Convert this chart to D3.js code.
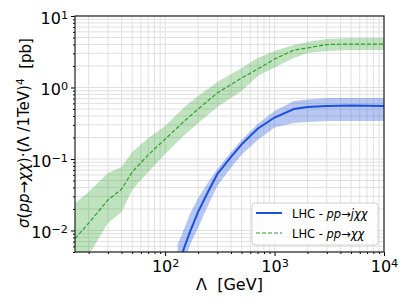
<!DOCTYPE html>
<html>
<head>
<meta charset="utf-8">
<script src="https://cdnjs.cloudflare.com/ajax/libs/d3/7.8.5/d3.min.js"></script>
<style>
    body { margin: 0; background: #fff; }
    svg { display: block; font-family: "DejaVu Sans", sans-serif; }
</style>
</head>
<body>
<div id="chart"></div>
<script>
// Lambda (GeV) and sigma * (Lambda/1TeV)^4 (pb), central value and band edges
var lamChiChi = [15, 20, 30, 40, 50, 70, 100, 150, 200, 300, 500, 700, 1000, 1500, 2000, 3000, 5000, 10000];
var chiChiMid = [0.0077, 0.0127, 0.0267, 0.038, 0.0658, 0.114, 0.19, 0.34, 0.50, 0.84, 1.36, 1.81, 2.50, 3.34, 3.57, 3.99, 4.05, 4.05];
var chiChiHi  = [0.0243, 0.0345, 0.0637, 0.0773, 0.125, 0.197, 0.290, 0.533, 0.76, 1.19, 1.87, 2.59, 3.24, 3.93, 4.33, 4.77, 4.92, 4.92];
var chiChiLo  = [0.0023, 0.0045, 0.0127, 0.0182, 0.0368, 0.0658, 0.117, 0.217, 0.318, 0.533, 0.893, 1.45, 1.90, 2.59, 3.04, 3.24, 3.34, 3.34];

var lamJChiChi = [130, 150, 170, 200, 250, 300, 400, 500, 700, 1000, 1500, 2000, 3000, 5000, 10000];
var jChiChiMid = [0.00299, 0.00588, 0.00984, 0.0182, 0.0363, 0.0617, 0.107, 0.160, 0.265, 0.380, 0.50, 0.533, 0.551, 0.56, 0.551];
var jChiChiHi  = [0.00627, 0.0108, 0.0176, 0.0285, 0.0484, 0.0725, 0.125, 0.184, 0.309, 0.469, 0.647, 0.679, 0.713, 0.713, 0.713];
var jChiChiLo  = [0.00147, 0.00362, 0.00647, 0.0108, 0.0235, 0.0419, 0.076, 0.115, 0.184, 0.276, 0.318, 0.329, 0.340, 0.340, 0.340];

var xMajor = [100, 1000, 10000];
var yMajor = [0.01, 0.1, 1, 10];

var blue = "#1c50dc", green = "#2ca02c";

var width = 408, height = 306,
    margin = {top: 16, right: 24, bottom: 54, left: 75},
    innerW = width - margin.left - margin.right,
    innerH = height - margin.top - margin.bottom;

var x = d3.scaleLog().domain([15, 10000]).range([0, innerW]);
var y = d3.scaleLog().domain([0.005, 10]).range([innerH, 0]);

// minor ticks 2..9 in each decade, kept inside the domain
function minors(scale, lo, hi) {
    var out = [];
    for (var e = lo; e <= hi; e++) {
        for (var k = 2; k <= 9; k++) {
            var v = k * Math.pow(10, e);
            var d = scale.domain();
            if (v >= d[0] && v <= d[1]) out.push(v);
        }
    }
    return out;
}
var xMinor = minors(x, 1, 3);
var yMinor = minors(y, -3, 0);

var svg = d3.select("#chart").append("svg")
    .attr("width", width)
    .attr("height", height);

var g = svg.append("g")
    .attr("transform", "translate(" + margin.left + "," + margin.top + ")");

g.append("clipPath").attr("id", "plotClip")
    .append("rect").attr("width", innerW).attr("height", innerH);

// grid
var grid = g.append("g").attr("class", "grid");
grid.selectAll(".vx").data(xMinor.concat(xMajor)).enter().append("line")
    .attr("x1", function (d) { return x(d); })
    .attr("x2", function (d) { return x(d); })
    .attr("y1", 0).attr("y2", innerH)
    .attr("stroke", "#e0e0e0").attr("stroke-width", 1);
grid.selectAll(".hy").data(yMinor.concat(yMajor)).enter().append("line")
    .attr("y1", function (d) { return y(d); })
    .attr("y2", function (d) { return y(d); })
    .attr("x1", 0).attr("x2", innerW)
    .attr("stroke", "#e0e0e0").attr("stroke-width", 1);

function rows(lam, mid, lo, hi) {
    return lam.map(function (l, i) {
        return {lam: l, mid: mid[i], lo: lo[i], hi: hi[i]};
    });
}
var chiChi = rows(lamChiChi, chiChiMid, chiChiLo, chiChiHi);
var jChiChi = rows(lamJChiChi, jChiChiMid, jChiChiLo, jChiChiHi);

var band = d3.area()
    .x(function (d) { return x(d.lam); })
    .y0(function (d) { return y(d.lo); })
    .y1(function (d) { return y(d.hi); });

var line = d3.line()
    .x(function (d) { return x(d.lam); })
    .y(function (d) { return y(d.mid); });

var plot = g.append("g").attr("clip-path", "url(#plotClip)");

plot.append("path").datum(jChiChi)
    .attr("d", band)
    .attr("fill", blue).attr("fill-opacity", 0.32);
plot.append("path").datum(jChiChi)
    .attr("d", line)
    .attr("fill", "none").attr("stroke", blue).attr("stroke-width", 2);

plot.append("path").datum(chiChi)
    .attr("d", band)
    .attr("fill", green).attr("fill-opacity", 0.3);
plot.append("path").datum(chiChi)
    .attr("d", line)
    .attr("fill", "none").attr("stroke", green)
    .attr("stroke-width", 1.2).attr("stroke-dasharray", "4,2");

// axes
function powLabel(sel) {
    sel.selectAll(".tick text").each(function (d) {
        var e = Math.round(Math.log10(d));
        var t = d3.select(this).text("10");
        t.append("tspan")
            .attr("dy", "-0.45em")
            .attr("font-size", "0.7em")
            .text(String(e).replace("-", "\u2212"));
    });
}

var xAxis = g.append("g")
    .attr("transform", "translate(0," + innerH + ")")
    .call(d3.axisBottom(x).tickValues(xMajor).tickSize(4).tickPadding(5));
xAxis.selectAll("text").attr("font-size", 16).attr("fill", "#000")
    .attr("font-family", "DejaVu Sans");
powLabel(xAxis);

var xAxisMinor = g.append("g")
    .attr("transform", "translate(0," + innerH + ")")
    .call(d3.axisBottom(x).tickValues(xMinor).tickSize(2).tickFormat(""));

var yAxis = g.append("g")
    .call(d3.axisLeft(y).tickValues(yMajor).tickSize(4).tickPadding(3));
yAxis.selectAll("text").attr("font-size", 16).attr("fill", "#000")
    .attr("font-family", "DejaVu Sans").attr("dy", "0.45em");
powLabel(yAxis);

var yAxisMinor = g.append("g")
    .call(d3.axisLeft(y).tickValues(yMinor).tickSize(2).tickFormat(""));

[xAxis, xAxisMinor, yAxis, yAxisMinor].forEach(function (a) {
    a.select(".domain").remove();
    a.selectAll("line").attr("stroke", "#000");
});

// frame
g.append("rect")
    .attr("width", innerW).attr("height", innerH)
    .attr("fill", "none").attr("stroke", "#222").attr("stroke-width", 1.2);

// axis titles
svg.append("text")
    .attr("x", margin.left + innerW / 2)
    .attr("y", 290)
    .attr("text-anchor", "middle")
    .attr("font-size", 16)
    .text("\u039b\u00a0 [GeV]");

var yTitle = svg.append("text")
    .attr("transform", "translate(29," + (margin.top + innerH / 2 - 1) + ") rotate(-90)")
    .attr("text-anchor", "middle")
    .attr("font-size", 15);
yTitle.append("tspan").attr("font-style", "italic").text("\u03c3");
yTitle.append("tspan").text("(");
yTitle.append("tspan").attr("font-style", "italic").text("pp");
yTitle.append("tspan").text("\u2192");
yTitle.append("tspan").attr("font-style", "italic").text("\u03c7\u03c7");
yTitle.append("tspan").text(")\u00b7(\u039b /1TeV)");
yTitle.append("tspan").attr("dy", "-0.45em").attr("font-size", "0.7em").text("4");
yTitle.append("tspan").attr("dy", "0.45em").text("\u00a0 [pb]");

// legend
var legend = g.append("g")
    .attr("transform", "translate(" + (252 - margin.left) + "," + (203 - margin.top) + ")");
legend.append("rect")
    .attr("width", 126).attr("height", 42).attr("rx", 3)
    .attr("fill", "#fff").attr("fill-opacity", 0.85)
    .attr("stroke", "#d0d0d0");

var entries = [
    {color: blue, dash: null, width: 2, proc: "j\u03c7\u03c7"},
    {color: green, dash: "4,2", width: 1.2, proc: "\u03c7\u03c7"}
];
var item = legend.selectAll(".item").data(entries).enter().append("g")
    .attr("transform", function (d, i) { return "translate(0," + (10 + i * 20) + ")"; });
item.append("line")
    .attr("x1", 4).attr("x2", 30)
    .attr("stroke", function (d) { return d.color; })
    .attr("stroke-width", function (d) { return d.width; })
    .attr("stroke-dasharray", function (d) { return d.dash; });
var label = item.append("text")
    .attr("x", 40).attr("y", 4.5)
    .attr("font-size", 11.5);
label.append("tspan").text("LHC - ");
label.append("tspan").attr("font-style", "italic").text("pp");
label.append("tspan").text("\u2192");
label.append("tspan").attr("font-style", "italic").text(function (d) { return d.proc; });
</script>
</body>
</html>
